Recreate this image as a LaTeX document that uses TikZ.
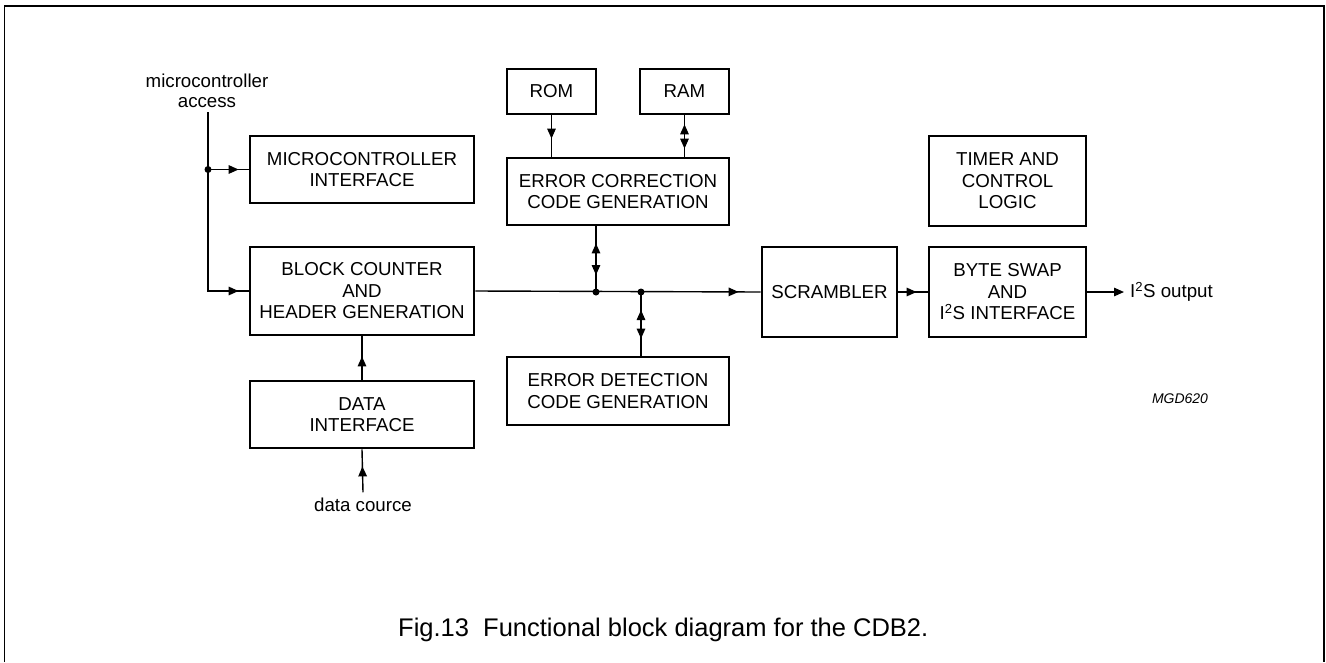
\documentclass[tikz,border=0pt]{standalone}
\usepackage{fontspec}
\setmainfont{Liberation Sans}
\usetikzlibrary{arrows.meta,decorations.markings}
\newcommand{\boxfont}{\fontsize{18.7pt}{21.5pt}\selectfont}
\begin{document}
\begin{tikzpicture}[x=1pt,y=-1pt,
  >={Triangle[length=10pt,width=8.5pt]},
  box/.style={draw, line width=2.8pt, inner sep=0pt, align=center, font=\boxfont},
  lbl/.style={inner sep=0pt, align=center, font=\boxfont},
  wire/.style={line width=1.4pt},
  tipend/.style={postaction={decorate}, decoration={markings, mark=at position #1 with {\arrow{>}}}},
  tipboth/.style 2 args={postaction={decorate}, decoration={markings,
     mark=at position #1 with {\arrowreversed{>}},
     mark=at position #2 with {\arrow{>}}}},
  dot/.style={circle, fill, inner sep=0pt, minimum size=7pt}
]
\useasboundingbox (0,0) rectangle (1326,662);
% frame
\draw[line width=1.6pt] (4.5,662) -- (4.5,6) -- (1324,6) -- (1324,662);

% boxes
\node[box, minimum width=224pt, minimum height=67pt] (mci) at (362,169.5) {MICROCONTROLLER\\INTERFACE};
\node[box, minimum width=224pt, minimum height=88pt] (bc)  at (362,291) {BLOCK COUNTER\\AND\\HEADER GENERATION};
\node[box, minimum width=224pt, minimum height=67pt] (di)  at (362,414.5) {DATA\\INTERFACE};
\node[box, minimum width=89pt, minimum height=45pt] (rom) at (551.5,91.5) {ROM};
\node[box, minimum width=89pt, minimum height=45pt] (ram) at (684.5,91.5) {RAM};
\node[box, minimum width=222pt, minimum height=67pt] (ecc) at (618,191.5) {ERROR CORRECTION\\CODE GENERATION};
\node[box, minimum width=222pt, minimum height=68pt] (edc) at (618,391) {ERROR DETECTION\\CODE GENERATION};
\node[box, minimum width=135pt, minimum height=90pt] (scr) at (829.5,292) {SCRAMBLER};
\node[box, minimum width=157pt, minimum height=90pt] (bsw) at (1007.5,292) {BYTE SWAP\\AND\\I\textsuperscript{2}S INTERFACE};
\node[box, minimum width=157pt, minimum height=90pt] (tim) at (1007.5,181) {TIMER AND\\CONTROL\\LOGIC};

% labels
\node[lbl, font=\fontsize{18.7pt}{20pt}\selectfont, inner ysep=4pt] (macc) at (207,91) {microcontroller\\access};
\node[lbl, anchor=base, inner ysep=5pt] (dc) at (363,511) {data cource};
\node[lbl, anchor=west, inner xsep=6pt] (out) at (1124,292) {I\textsuperscript{2}S output};
\node[inner sep=0pt, font=\fontsize{14pt}{16pt}\selectfont\itshape] (mgd) at (1180,399) {MGD620};
\node[inner sep=0pt, anchor=base west, font=\fontsize{25.5pt}{30pt}\selectfont] (cap) at (398,636) {Fig.13\ \ Functional block diagram for the CDB2.};

% junction coordinates
\coordinate (ma) at (macc.south -| 208,0);
\coordinate (j0) at (ma |- mci.west);
\coordinate (j1) at (596,292);
\coordinate (j2) at (641,292);

% connectors
\draw[wire, tipend=-10pt] (ma) -- (ma |- bc.west) -- (bc.west);
\draw[wire, tipend=-10pt] (j0) -- (mci.west);
\draw[wire, tipend=-22pt] (bc.east) -- (scr.west);
\draw[wire, tipend=-11pt] (scr.east) -- (bsw.west);
\draw[wire, ->] (bsw.east) -- (out.west);
\draw[wire, tipend=-18pt] (rom.south) -- (ecc.north -| rom.south);
\draw[wire, tipboth={9pt}{-8pt}] (ram.south) -- (ecc.north -| ram.south);
\draw[wire, tipboth={17pt}{-17pt}] (ecc.south -| j1) -- (j1);
\draw[wire, tipboth={18pt}{-17pt}] (j2) -- (edc.north -| j2);
\draw[wire, tipend=-20pt] (di.north) -- (bc.south);
\draw[wire, tipend=-17pt] (dc.north) -- (di.south);

% dots
\node[dot] at (j0) {};
\node[dot] at (j1) {};
\node[dot] at (j2) {};
\end{tikzpicture}
\end{document}
